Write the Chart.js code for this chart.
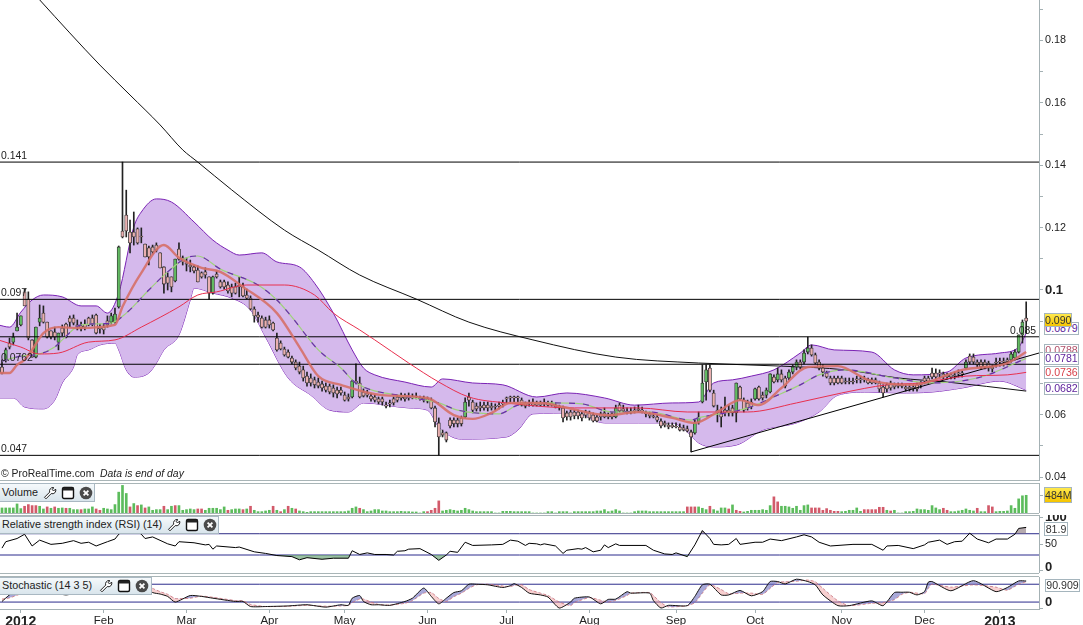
<!DOCTYPE html>
<html>
<head>
<meta charset="utf-8">
<title>ProRealTime chart</title>
<script src="https://cdn.jsdelivr.net/npm/chart.js@4/dist/chart.umd.min.js"></script>
<style>
  html, body { margin: 0; padding: 0; background: #fff; overflow: hidden; }
  body { width: 1083px; height: 625px; position: relative; font-family: "Liberation Sans", Arial, sans-serif; color: #222; }
  canvas { position: absolute; left: 0; }
  .sep { position: absolute; left: 0; width: 1039px; height: 1px; background: #a9b5b7; z-index: 3; }
  .note { position: absolute; font-size: 10.4px; line-height: 12px; white-space: pre; z-index: 4; color: #222; }
  .bar { position: absolute; left: 0; box-sizing: border-box; border: 1px solid #a9b8c2; border-left: 0; background: linear-gradient(#f5f9fb, #d9e5ec); font-size: 10.8px; color: #222; z-index: 5; white-space: pre; }
  .bar span { position: absolute; left: 2px; }
  .bar svg { position: absolute; top: 50%; margin-top: -7px; }
  .tag { position: absolute; box-sizing: border-box; border: 1px solid #a5b5bd; background: #fff; font-size: 10.6px; text-align: center; z-index: 6; }
</style>
</head>
<body>
<canvas id="mainChart" width="1083" height="481" style="top:0"></canvas>
<canvas id="volChart" width="1083" height="30" style="top:483px"></canvas>
<canvas id="rsiChart" width="1083" height="58" style="top:515px"></canvas>
<canvas id="stochChart" width="1083" height="48" style="top:577px"></canvas>
<script>
// candles, one value per trading day
const open = [
  .0753,.0776,.0830,.0833,.0869,.0888,.0994,.0971,.0840,.0785,
  .0897,.0926,.0897,.0869,.0865,.0833,.0878,.0891,.0910,.0910,
  .0888,.0885,.0891,.0910,.0910,.0920,.0881,.0881,.0901,.0897,
  .0897,.0946,.1189,.1240,.1186,.1186,.1196,.1173,.1147,.1135,
  .1138,.1144,.1119,.1074,.1042,.1042,.1029,.1131,.1103,.1087,
  .1080,.1074,.1064,.1055,.1058,.1042,.0990,.1051,.1026,.1026,
  .1016,.1010,.1010,.1016,.1010,.0984,.0974,.0939,.0920,.0910,
  .0904,.0904,.0894,.0846,.0830,.0811,.0801,.0782,.0769,.0756,
  .0744,.0724,.0718,.0712,.0705,.0699,.0692,.0692,.0686,.0679,
  .0679,.0663,.0657,.0657,.0708,.0702,.0673,.0670,.0660,.0657,
  .0651,.0651,.0631,.0638,.0651,.0657,.0663,.0657,.0657,.0657,
  .0660,.0654,.0654,.0651,.0647,.0622,.0574,.0542,.0542,.0583,
  .0583,.0583,.0590,.0593,.0657,.0641,.0628,.0628,.0631,.0631,
  .0628,.0628,.0631,.0638,.0654,.0657,.0657,.0657,.0647,.0638,
  .0638,.0641,.0638,.0638,.0641,.0638,.0638,.0631,.0628,.0622,
  .0606,.0609,.0609,.0609,.0603,.0609,.0606,.0599,.0593,.0603,
  .0606,.0599,.0603,.0593,.0631,.0619,.0612,.0612,.0615,.0619,
  .0615,.0606,.0603,.0596,.0593,.0580,.0574,.0567,.0567,.0564,
  .0561,.0558,.0555,.0545,.0542,.0577,.0641,.0705,.0750,.0670,
  .0615,.0606,.0615,.0615,.0622,.0606,.0689,.0647,.0638,.0641,
  .0651,.0689,.0663,.0663,.0673,.0721,.0712,.0731,.0718,.0718,
  .0737,.0753,.0769,.0769,.0801,.0814,.0792,.0769,.0750,.0734,
  .0718,.0718,.0718,.0718,.0708,.0708,.0708,.0715,.0715,.0715,
  .0712,.0712,.0712,.0702,.0689,.0696,.0702,.0696,.0696,.0696,
  .0689,.0689,.0689,.0696,.0702,.0718,.0718,.0734,.0734,.0734,
  .0731,.0728,.0728,.0728,.0734,.0734,.0750,.0788,.0785,.0769,
  .0769,.0769,.0766,.0753,.0769,.0772,.0772,.0776,.0776,.0782,.0801,.0856,.0910
];
const close = [
  .0734,.0808,.0817,.0849,.0881,.0917,.0949,.0846,.0785,.0881,
  .0910,.0897,.0849,.0849,.0849,.0862,.0862,.0849,.0897,.0894,
  .0881,.0878,.0881,.0888,.0891,.0862,.0875,.0872,.0888,.0917,
  .0923,.1138,.1170,.1189,.1151,.1170,.1151,.1170,.1106,.1106,
  .1122,.1128,.1071,.1019,.1022,.1010,.1099,.1099,.1090,.1083,
  .1074,.1061,.1026,.1042,.1048,.0990,.1042,.1042,.1010,.1010,
  .0997,.0990,.0990,.1010,.0981,.0974,.0939,.0917,.0913,.0881,
  .0881,.0888,.0872,.0808,.0811,.0792,.0785,.0769,.0750,.0737,
  .0718,.0702,.0702,.0696,.0692,.0686,.0679,.0673,.0670,.0667,
  .0670,.0647,.0651,.0708,.0702,.0657,.0660,.0663,.0651,.0647,
  .0641,.0641,.0628,.0635,.0638,.0647,.0654,.0651,.0654,.0654,
  .0657,.0651,.0647,.0644,.0622,.0577,.0529,.0535,.0519,.0564,
  .0571,.0571,.0571,.0641,.0647,.0615,.0619,.0622,.0622,.0622,
  .0622,.0625,.0628,.0635,.0651,.0654,.0654,.0654,.0631,.0628,
  .0635,.0631,.0631,.0631,.0635,.0631,.0631,.0625,.0622,.0590,
  .0593,.0593,.0596,.0596,.0590,.0599,.0590,.0580,.0580,.0593,
  .0593,.0593,.0593,.0622,.0612,.0612,.0609,.0609,.0612,.0615,
  .0612,.0603,.0596,.0593,.0583,.0564,.0567,.0561,.0561,.0561,
  .0551,.0551,.0548,.0529,.0574,.0593,.0702,.0744,.0679,.0628,
  .0606,.0593,.0606,.0606,.0606,.0702,.0651,.0615,.0622,.0625,
  .0683,.0651,.0654,.0679,.0731,.0705,.0731,.0712,.0692,.0737,
  .0753,.0769,.0753,.0798,.0814,.0792,.0766,.0750,.0737,.0721,
  .0702,.0702,.0702,.0702,.0705,.0705,.0705,.0712,.0712,.0712,
  .0702,.0702,.0702,.0683,.0670,.0683,.0686,.0689,.0692,.0692,
  .0683,.0683,.0683,.0683,.0696,.0708,.0708,.0721,.0721,.0731,
  .0721,.0721,.0721,.0724,.0731,.0731,.0769,.0769,.0769,.0760,
  .0753,.0753,.0750,.0747,.0766,.0769,.0769,.0769,.0795,.0801,.0856,.0897,.0900
];
const high = [
  .0776,.0814,.0846,.0862,.0926,.0917,.1003,.0994,.0840,.0881,
  .0952,.0949,.0897,.0869,.0881,.0862,.0888,.0894,.0917,.0920,
  .0904,.0897,.0904,.0913,.0920,.0923,.0891,.0891,.0917,.0926,
  .0942,.1141,.1410,.1320,.1224,.1250,.1199,.1199,.1147,.1141,
  .1144,.1151,.1119,.1074,.1055,.1042,.1099,.1151,.1109,.1103,
  .1096,.1080,.1077,.1058,.1071,.1042,.1045,.1061,.1032,.1032,
  .1026,.1019,.1022,.1042,.1022,.1003,.0981,.0946,.0929,.0917,
  .0913,.0917,.0897,.0862,.0837,.0817,.0808,.0788,.0776,.0769,
  .0756,.0737,.0731,.0721,.0718,.0708,.0702,.0699,.0696,.0689,
  .0689,.0673,.0667,.0712,.0763,.0721,.0683,.0679,.0667,.0663,
  .0657,.0657,.0641,.0647,.0657,.0663,.0670,.0667,.0670,.0667,
  .0670,.0660,.0660,.0657,.0654,.0628,.0590,.0551,.0545,.0590,
  .0590,.0590,.0596,.0654,.0670,.0647,.0638,.0641,.0641,.0641,
  .0638,.0635,.0641,.0647,.0657,.0660,.0660,.0660,.0654,.0641,
  .0647,.0651,.0644,.0644,.0651,.0644,.0644,.0638,.0631,.0628,
  .0612,.0615,.0615,.0615,.0609,.0615,.0612,.0606,.0599,.0609,
  .0622,.0606,.0609,.0631,.0638,.0631,.0622,.0622,.0625,.0631,
  .0625,.0612,.0609,.0603,.0599,.0587,.0580,.0574,.0574,.0574,
  .0571,.0567,.0564,.0551,.0583,.0609,.0760,.0760,.0760,.0679,
  .0631,.0625,.0657,.0631,.0631,.0702,.0692,.0654,.0647,.0651,
  .0686,.0692,.0673,.0686,.0731,.0728,.0750,.0744,.0724,.0744,
  .0760,.0776,.0776,.0808,.0849,.0824,.0798,.0776,.0760,.0740,
  .0724,.0724,.0724,.0724,.0718,.0718,.0718,.0724,.0724,.0724,
  .0718,.0718,.0718,.0708,.0696,.0702,.0708,.0702,.0702,.0702,
  .0696,.0696,.0696,.0702,.0708,.0724,.0724,.0750,.0747,.0744,
  .0737,.0734,.0734,.0737,.0744,.0740,.0776,.0795,.0795,.0776,
  .0776,.0776,.0772,.0760,.0782,.0782,.0782,.0782,.0801,.0808,.0856,.0904,.0962
];
const low = [
  .0731,.0769,.0811,.0824,.0869,.0885,.0949,.0840,.0785,.0782,
  .0885,.0894,.0846,.0843,.0840,.0808,.0853,.0846,.0881,.0888,
  .0872,.0869,.0872,.0885,.0885,.0859,.0862,.0859,.0881,.0891,
  .0894,.0942,.1167,.1170,.1119,.1144,.1147,.1151,.1106,.1080,
  .1115,.1122,.1071,.0990,.1000,.0994,.1026,.1096,.1080,.1061,
  .1058,.1055,.1026,.1038,.1038,.0971,.0987,.1038,.1006,.1003,
  .0990,.0978,.0987,.0978,.0978,.0971,.0936,.0897,.0897,.0878,
  .0878,.0878,.0869,.0804,.0808,.0788,.0782,.0763,.0744,.0731,
  .0708,.0692,.0692,.0686,.0686,.0676,.0673,.0667,.0657,.0654,
  .0663,.0644,.0644,.0654,.0699,.0654,.0657,.0657,.0644,.0641,
  .0635,.0631,.0622,.0625,.0631,.0641,.0647,.0644,.0647,.0651,
  .0651,.0647,.0641,.0638,.0619,.0561,.0471,.0529,.0513,.0558,
  .0561,.0561,.0564,.0590,.0628,.0606,.0612,.0612,.0615,.0612,
  .0615,.0615,.0619,.0625,.0638,.0641,.0641,.0641,.0628,.0622,
  .0628,.0628,.0628,.0628,.0628,.0628,.0628,.0622,.0615,.0577,
  .0583,.0583,.0587,.0587,.0580,.0590,.0583,.0577,.0577,.0583,
  .0590,.0587,.0587,.0590,.0609,.0609,.0603,.0603,.0606,.0609,
  .0606,.0593,.0590,.0590,.0577,.0558,.0561,.0555,.0558,.0558,
  .0548,.0548,.0545,.0481,.0538,.0570,.0638,.0647,.0673,.0625,
  .0577,.0561,.0596,.0596,.0596,.0577,.0647,.0609,.0615,.0619,
  .0647,.0647,.0647,.0654,.0670,.0702,.0705,.0705,.0686,.0712,
  .0731,.0744,.0747,.0763,.0795,.0788,.0763,.0744,.0724,.0718,
  .0696,.0696,.0699,.0699,.0699,.0699,.0699,.0702,.0702,.0705,
  .0699,.0699,.0699,.0673,.0657,.0673,.0679,.0683,.0686,.0686,
  .0676,.0676,.0676,.0676,.0686,.0699,.0699,.0715,.0715,.0718,
  .0715,.0715,.0715,.0715,.0721,.0721,.0747,.0763,.0763,.0753,
  .0747,.0747,.0740,.0737,.0753,.0756,.0756,.0760,.0769,.0776,.0798,.0830,.0862
];

// overlays, read at the days where the line bends
const upperDays = [-1,2,5,8,11,16,21,25,28,31,35,37,41,45,51,56,60,63,69,73,79,83,88,93,96,99,107,114,117,125,133,142,150,160,168,178,185,189,194,199,205,212,215,221,231,237,242,251,256,265,270,272];
const upperBand = [.0888,.0881,.0929,.0968,.0984,.0978,.0949,.0949,.0926,.0990,.1202,.1250,.1292,.1282,.1218,.1160,.1128,.1112,.1119,.1090,.1074,.1022,.0926,.0808,.0750,.0728,.0705,.0689,.0715,.0702,.0696,.0657,.0670,.0654,.0631,.0638,.0641,.0702,.0712,.0724,.0744,.0798,.0824,.0808,.0801,.0744,.0728,.0737,.0782,.0798,.0817,.0862];
const lowerDays = [-1,3,6,11,14,16,19,20,23,26,30,31,33,35,39,41,43,47,50,51,56,61,66,70,76,82,87,92,96,108,113,116,122,134,137,141,152,160,169,178,182,185,189,195,202,211,217,222,230,238,247,255,265,272];
const lowerBand = [.0654,.0654,.0625,.0619,.0647,.0702,.0753,.0792,.0808,.0824,.0830,.0808,.0744,.0721,.0734,.0766,.0808,.0856,.0968,.1006,.0990,.0974,.0936,.0849,.0718,.0663,.0615,.0609,.0638,.0622,.0615,.0561,.0522,.0529,.0551,.0603,.0606,.0574,.0574,.0574,.0545,.0510,.0497,.0503,.0551,.0574,.0609,.0663,.0673,.0670,.0673,.0686,.0708,.0679];
const midDays = [0,5,10,14,16,21,29,33,39,44,49,52,58,68,73,77,84,90,94,108,116,121,132,137,145,154,162,172,183,185,198,206,212,217,224,237,247,260,272];
const midBand = [.0772,.0788,.0795,.0817,.0840,.0888,.0894,.0926,.1000,.1058,.1103,.1109,.1067,.1016,.0968,.0913,.0808,.0750,.0702,.0657,.0638,.0615,.0603,.0631,.0638,.0635,.0609,.0609,.0583,.0590,.0622,.0663,.0696,.0728,.0744,.0718,.0702,.0721,.0781];
const fastDays = [-1,2,4,6,8,11,15,20,30,32,37,43,47,53,58,64,73,79,84,90,101,113,120,125,130,135,143,149,161,169,178,184,190,196,201,207,214,222,230,242,255,267,272];
const fastAvg = [.0734,.0734,.0760,.0776,.0808,.0862,.0881,.0878,.0888,.0946,.1055,.1144,.1103,.1071,.1058,.1010,.0926,.0817,.0724,.0696,.0663,.0654,.0599,.0587,.0606,.0638,.0638,.0625,.0599,.0609,.0590,.0574,.0609,.0647,.0631,.0686,.0753,.0756,.0712,.0696,.0744,.0766,.0801];
const slowDays = [-1,5,10,15,23,30,37,47,52,57,65,75,83,88,95,99,108,116,124,134,152,169,182,198,211,223,235,244,256,267,272];
const slowAvg = [.0840,.0817,.0795,.0798,.0833,.0840,.0881,.0946,.0984,.0994,.1016,.1016,.0984,.0926,.0872,.0840,.0766,.0705,.0657,.0638,.0622,.0622,.0609,.0609,.0638,.0670,.0696,.0702,.0724,.0728,.0736];
const longDays = [10,18,26,34,42,48,52,61,75,84,95,110,124,141,163,185,207,224,238,251,272];
const longAvg = [.1930,.1824,.1721,.1625,.1529,.1449,.1410,.1321,.1192,.1128,.1048,.0971,.0897,.0840,.0785,.0766,.0756,.0744,.0718,.0705,.0676];

const levels = [0.141, 0.097, 0.085, 0.0762, 0.047];
const levelLabels = ['0.141', '0.097', '0.085', '0.0762', '0.047'];
const trendDays = [183, 275.4];
const trendLine = [.0481, .0798];

const priceTicks = [.04,.05,.06,.07,.08,.09,.10,.11,.12,.13,.14,.15,.16,.17,.18,.19];
const priceTickLabels = ['0.04','','0.06','','','','0.1','','0.12','','0.14','','0.16','','0.18',''];

const monthDays = [5,27,49,71,91,113,134,156,179,200,223,245,265];
const monthLabels = ['2012','Feb','Mar','Apr','May','Jun','Jul','Aug','Sep','Oct','Nov','Dec','2013'];

// volume in millions
const volume = [
  138,138,138,138,248,120,184,230,202,202,
  184,110,166,129,166,129,138,129,129,92,
  92,92,110,110,166,110,74,129,110,92,
  230,570,754,534,166,258,202,221,138,166,
  74,92,92,184,92,184,202,202,74,92,
  110,92,110,110,74,129,129,129,92,166,
  74,92,110,110,92,110,184,74,37,37,
  55,74,184,74,37,92,184,129,110,55,
  37,18,37,37,37,37,37,37,37,37,
  37,37,55,129,166,129,92,37,55,92,
  92,55,55,37,37,37,46,37,37,28,
  28,0,37,37,74,129,331,55,74,92,
  74,55,74,129,92,55,37,37,37,37,
  37,0,0,46,46,46,37,37,37,37,
  37,0,0,0,0,37,37,0,37,37,
  37,0,37,37,37,37,37,37,55,55,
  92,37,55,92,55,0,0,0,37,55,
  55,55,37,37,37,37,37,37,37,37,
  37,37,166,166,166,166,129,92,184,92,
  55,138,138,110,221,74,46,28,46,74,
  74,74,92,74,202,442,304,184,184,166,
  129,184,74,202,221,138,138,138,74,120,
  74,46,46,37,46,74,74,138,46,92,
  92,92,92,156,156,74,55,74,0,0,
  37,37,46,110,92,92,74,202,138,92,
  129,74,37,37,55,74,110,74,55,129,
  37,37,202,166,37,46,46,55,202,129,386,470,484
];
const redVolumeDays = [6,7,8,9,12,14,17,21,25,26,34,36,38,43,46,52,53,60,64,66,72,74,76,78,95,113,114,115,116,182,183,184,188,193,195,196,205,206,215,216,217,218,219,220,221,222,229,230,231,232,233,234,236,250,251,259,262,263];

// RSI (14)
const rsiDays = [0,1,4,6,8,10,13,16,19,21,23,25,28,30,31,34,37,38,40,44,46,47,51,54,55,56,57,62,63,67,70,73,77,79,81,85,88,92,93,95,97,99,102,104,105,107,108,111,114,116,118,119,121,123,125,130,133,135,137,139,140,142,143,144,147,149,150,153,154,155,157,159,160,161,163,164,171,173,176,178,179,182,184,186,188,189,191,193,195,196,200,202,204,207,211,213,215,217,220,226,231,234,235,238,242,245,246,249,251,253,255,257,259,262,264,267,269,270,272];
const rsiValues = [43,55,61,69,47,58,50,52,57,52,54,47,55,60,69,85,69,61,64,51,47,55,53,49,50,41,47,44,45,36,33,29,27,21,25,22,24,24,38,31,34,31,31,30,37,38,41,42,31,20,30,37,35,54,48,49,50,58,56,48,52,51,49,51,47,33,39,42,41,44,36,39,49,44,51,48,48,39,32,31,34,27,49,76,61,50,49,50,61,50,54,54,60,57,64,68,64,54,47,50,50,39,47,48,42,49,54,58,50,55,56,71,60,53,60,60,69,80,81.9];
const rsiLevels = [70, 30];
const rsiTicks = [0, 6, 50, 100];
const rsiTickLabels = ['', '0', '50', '100'];

// Stochastic (14 3 5)
const stochDays = [0,2,5,8,12,17,22,28,33,38,40,42,44,46,50,53,56,62,64,66,70,76,81,86,90,92,93,95,96,98,100,103,107,109,112,114,116,118,120,122,124,126,129,133,135,136,138,140,143,145,148,151,152,156,159,161,163,166,167,172,173,175,177,182,184,186,188,191,193,196,199,202,204,206,208,211,214,216,218,222,225,231,234,237,239,241,243,245,246,247,252,258,264,267,270,272];
const stochK = [22,44,62,78,60,44,60,75,92,72,52,47,39,20,42,39,33,22,22,5,5,7,11,3,11,9,33,42,22,11,11,9,22,33,67,39,14,33,52,58,80,80,78,69,75,82,69,50,44,37,0,20,33,37,14,29,30,55,50,50,25,0,9,8,39,78,80,44,44,59,41,55,89,89,81,97,89,78,44,8,8,24,8,52,53,53,44,55,87,89,58,92,55,69,91,90.9];
const stochD = [30,34,48,64,68,52,52,66,80,82,66,55,46,32,33,40,36,25,24,12,5,6,9,6,7,9,18,30,30,20,12,10,16,25,50,52,32,22,38,50,66,78,80,74,72,76,78,62,50,42,20,8,18,35,26,20,26,42,50,52,42,18,4,8,18,50,78,62,48,50,50,46,66,86,88,90,94,88,66,24,8,16,18,28,46,53,50,48,66,80,70,78,70,60,80,88];
const stochLevels = [80, 20];
const stochTicks = [0, 20];
const stochTickLabels = ['', '0'];

const dayMin = -0.53, dayMax = 275.4;
const GREY = '#a4b1b4';
const NAVY = '#2b2b8c';

function pts(days, vals) {
  return days.map((d, i) => ({ x: d, y: vals[i] }));
}
function hline(v) {
  return [{ x: dayMin, y: v }, { x: dayMax, y: v }];
}
function line(data, color, width, order, extra) {
  return Object.assign({
    type: 'line', data: data, borderColor: color, borderWidth: width, order: order,
    pointRadius: 0, fill: false, tension: 0.35, cubicInterpolationMode: 'monotone'
  }, extra || {});
}
// fixed axis box so that the plot areas sit where the panels are
function fixY(scale) {
  scale.width = 44;
  scale.paddingTop = 0;
  scale.paddingBottom = 0;
}
function xAxis(show) {
  return {
    type: 'linear', min: dayMin, max: dayMax, offset: false, display: show,
    afterBuildTicks: axis => { axis.ticks = monthDays.map(v => ({ value: v })); },
    afterFit: scale => {
      scale.height = show ? 16 : 0;
      scale.paddingLeft = 0;
      scale.paddingRight = 0;
    },
    border: { color: GREY },
    grid: { display: true, drawOnChartArea: false, tickLength: 4, color: GREY },
    ticks: {
      autoSkip: false, maxRotation: 0, padding: 1, color: '#222',
      callback: (v, i) => monthLabels[i],
      font: ctx => (ctx.tick && /^20/.test(ctx.tick.label)
        ? { family: 'Liberation Sans', size: 14, weight: 'bold' }
        : { family: 'Liberation Sans', size: 11.5 })
    }
  };
}
// labelOnly: values that only carry a label that sits a little above its own tick mark
function yAxis(min, max, tickValues, labels, bold, labelOnly) {
  return {
    position: 'right', min: min, max: max,
    afterBuildTicks: axis => { axis.ticks = tickValues.map(v => ({ value: v })); },
    afterFit: fixY,
    border: { color: GREY },
    grid: {
      display: true, drawOnChartArea: false, tickLength: 4, color: GREY,
      tickColor: ctx => (ctx.tick && (labelOnly || []).includes(ctx.tick.value) ? 'transparent' : GREY)
    },
    ticks: {
      autoSkip: false, padding: 2, color: '#222',
      callback: (v, i) => labels[i],
      font: ctx => (ctx.tick && bold.includes(ctx.tick.label)
        ? { family: 'Liberation Sans', size: 13, weight: 'bold' }
        : { family: 'Liberation Sans', size: 10.8 })
    }
  };
}
function baseOptions(scales) {
  return {
    responsive: false, animation: false, devicePixelRatio: 1,
    layout: { padding: 0 },
    events: [],
    plugins: { legend: { display: false }, tooltip: { enabled: false }, title: { display: false } },
    scales: scales
  };
}

const candleDays = open.map((_, i) => i);
const bodyColors = open.map((o, i) => (close[i] > o ? '#62bb62' : '#eab0b0'));

const main = new Chart(document.getElementById('mainChart'), {
  type: 'bar',
  data: {
    datasets: [
      line(pts(upperDays, upperBand), '#7a22b4', 1, 9, { fill: '+1', backgroundColor: '#d5b9ec' }),
      line(pts(lowerDays, lowerBand), '#7a22b4', 1, 9),
      line(pts(longDays, longAvg), '#111', 1, 8),
      { type: 'bar', data: candleDays.map(d => ({ x: d, y: [low[d], high[d]] })), backgroundColor: '#222', barThickness: 1, grouped: false, order: 7 },
      { type: 'bar', data: candleDays.map(d => ({ x: d, y: [open[d], close[d]] })), backgroundColor: bodyColors, borderColor: '#333', borderWidth: 0.8, borderSkipped: false, barThickness: 3.2, minBarLength: 1, grouped: false, order: 6 },
      ...levels.map(v => line(hline(v), '#000', 1, 5, { tension: 0 })),
      line(pts(trendDays, trendLine), '#000', 1, 5, { tension: 0 }),
      line(pts(midDays, midBand), '#9fd27c', 1.2, 3),
      line(pts(midDays, midBand), '#6a2ab0', 1.2, 2, { borderDash: [6, 8] }),
      line(pts(slowDays, slowAvg), '#e8304e', 1, 1),
      line(pts(fastDays, fastAvg), 'rgba(214,112,104,0.9)', 2.4, 0)
    ]
  },
  options: baseOptions({
    x: xAxis(false),
    y: yAxis(0.03878, 0.19295, priceTicks, priceTickLabels, ['0.1'])
  })
});

new Chart(document.getElementById('volChart'), {
  type: 'bar',
  data: {
    datasets: [{
      data: volume.map((v, d) => ({ x: d, y: v })),
      backgroundColor: volume.map((v, d) => (redVolumeDays.includes(d) ? '#d25a6a' : '#5cbc5c')),
      barThickness: 2
    }]
  },
  options: baseOptions({
    x: xAxis(false),
    y: yAxis(0, 820, [484], [''], [])
  })
});

new Chart(document.getElementById('rsiChart'), {
  type: 'line',
  data: {
    datasets: [
      line(pts(rsiDays, rsiValues), '#000', 1, 0, { tension: 0, cubicInterpolationMode: 'default', fill: { target: { value: 70 }, above: 'rgba(120,100,110,0.55)', below: 'transparent' } }),
      line(pts(rsiDays, rsiValues), 'transparent', 0, 1, { tension: 0, cubicInterpolationMode: 'default', fill: { target: { value: 30 }, above: 'transparent', below: 'rgba(100,160,110,0.65)' } }),
      ...rsiLevels.map(v => line(hline(v), NAVY, 1, 2, { tension: 0 }))
    ]
  },
  options: baseOptions({
    x: xAxis(false),
    y: yAxis(-3.8, 105.2, rsiTicks, rsiTickLabels, ['0', '100'], [6])
  })
});

new Chart(document.getElementById('stochChart'), {
  type: 'line',
  data: {
    datasets: [
      line(pts(stochDays, stochK), '#111', 1, 0, { tension: 0.2, cubicInterpolationMode: 'default', fill: { target: '+1', above: 'rgba(110,110,190,0.6)', below: 'rgba(240,150,150,0.45)' } }),
      line(pts(stochDays, stochD), '#cf6a6a', 0.8, 1, { tension: 0.2, cubicInterpolationMode: 'default', borderDash: [3, 2] }),
      ...stochLevels.map(v => line(hline(v), NAVY, 1, 2, { tension: 0 }))
    ]
  },
  options: baseOptions({
    x: xAxis(true),
    y: yAxis(-3.3, 104.3, stochTicks, stochTickLabels, ['0'], [20])
  })
});

// text and boxes over the charts
function addHtml(cls, css, html) {
  const el = document.createElement('div');
  el.className = cls;
  el.style.cssText = css;
  el.innerHTML = html;
  document.body.appendChild(el);
  return el;
}

const yScale = main.scales.y;
levels.forEach((v, i) => {
  const top = Math.round(yScale.getPixelForValue(v)) - 12;
  const where = levelLabels[i] === '0.085' ? 'left:1010px' : 'left:1px';
  addHtml('note', where + ';top:' + top + 'px', levelLabels[i]);
});
addHtml('note', 'left:1px;top:468px;background:#fff', '\u00a9 ProRealTime.com  <i>Data is end of day</i>');

[480, 483, 513, 515, 573, 576].forEach(y => addHtml('sep', 'top:' + y + 'px', ''));

const WRENCH = '<path d="M10 1.5a3.5 3.5 0 0 0-3.3 4.6L1.5 11.3 3 12.8l5.2-5.2A3.5 3.5 0 0 0 12.6 3l-2 2-1.6-1.6 2-1.7a3.5 3.5 0 0 0-1-.2z" fill="#fff" stroke="#222" stroke-width="1"/>';
const WINDOW = '<rect x="1.5" y="1.5" width="11" height="11" rx="1.5" fill="#fff" stroke="#111" stroke-width="1.4"/><rect x="1.5" y="1.5" width="11" height="3" fill="#222"/>';
const CLOSE = '<circle cx="7" cy="7" r="6.3" fill="#4a4a4a"/><path d="M4.6 4.6l4.8 4.8M9.4 4.6l-4.8 4.8" stroke="#fff" stroke-width="1.8"/>';
function icons(a, b, c) {
  return [[a, WRENCH], [b, WINDOW], [c, CLOSE]].map(p =>
    '<svg width="14" height="14" viewBox="0 0 14 14" style="left:' + p[0] + 'px">' + p[1] + '</svg>').join('');
}
addHtml('bar', 'top:483px;width:95px;height:19px;line-height:16px', '<span>Volume</span>' + icons(43, 61, 79));
addHtml('bar', 'top:516px;width:219px;height:18px;line-height:15px', '<span>Relative strength index (RSI) (14)</span>' + icons(167, 185, 203));
addHtml('bar', 'top:577px;width:152px;height:18px;line-height:15px', '<span>Stochastic (14 3 5)</span>' + icons(99, 117, 135));

function tag(text, left, top, w, h, color, bg) {
  addHtml('tag', 'left:' + left + 'px;top:' + top + 'px;width:' + w + 'px;height:' + h + 'px;line-height:' + (h - 2) + 'px;color:' + color + (bg ? ';background:' + bg : ''), text);
}
const YELLOW = 'linear-gradient(#ffe94d,#f5c400)';
tag('0.0879', 1044, 322, 35, 13, '#5a1e9a');
tag('0.090', 1044, 313, 28, 14, '#333', YELLOW);
tag('0.0788', 1044, 344, 35, 12, '#b0506a');
tag('0.0781', 1044, 352, 35, 13, '#5a1e9a');
tag('0.0736', 1044, 366, 35, 13, '#d8404a');
tag('0.0682', 1044, 382, 35, 13, '#5a1e9a');
tag('484M', 1044, 487, 28, 16, '#333', YELLOW);
tag('81.9', 1044, 522, 24, 14, '#333');
tag('90.909', 1045, 579, 35, 13, '#333');
</script>
</body>
</html>
